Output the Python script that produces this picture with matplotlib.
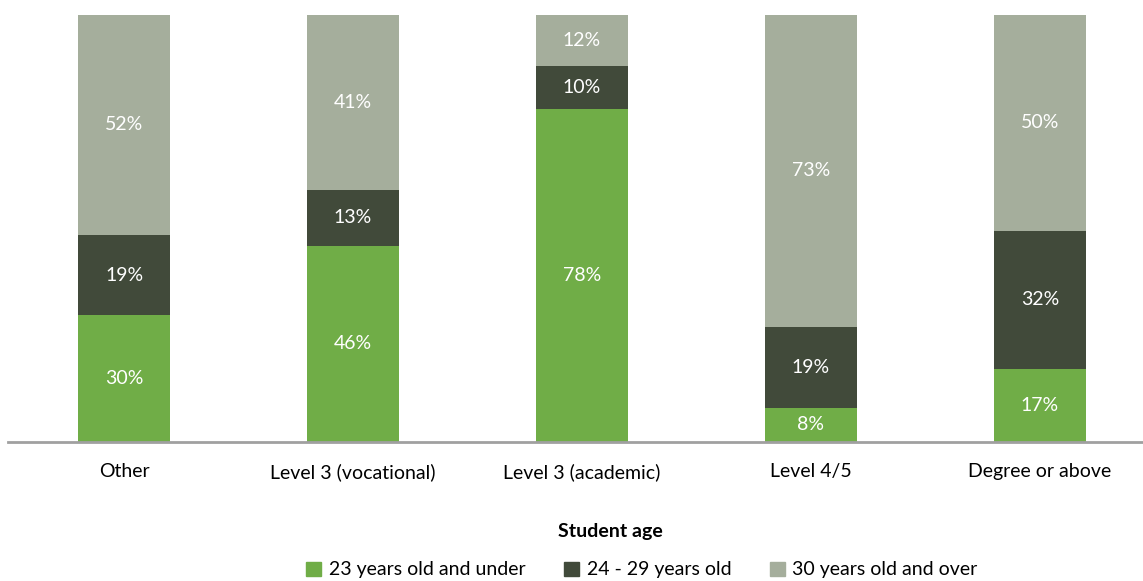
import numpy as np
import matplotlib.pyplot as plt
from matplotlib.patches import Patch

plt.rcParams['font.family'] = ['Lato', 'DejaVu Sans']

categories = ['Other', 'Level 3 (vocational)', 'Level 3 (academic)', 'Level 4/5', 'Degree or above']
series = ['23 years old and under', '24 - 29 years old', '30 years old and over']
under23 = [30, 46, 78, 8, 17]
age24_29 = [19, 13, 10, 19, 32]
over30 = [52, 41, 12, 73, 50]
colors = ['#70AD47', '#414A3A', '#A5AE9C']

data = np.array([under23, age24_29, over30], dtype=float)
shares = data / data.sum(axis=0) * 100

fig = plt.figure(figsize=(11.43, 5.81), dpi=100)
ax = fig.add_axes([8 / 1143, 1 - 442 / 581, 1 - 8 / 1143, 427 / 581])

x = np.arange(len(categories))
bottom = np.zeros(len(categories))
for i in range(3):
    ax.bar(x, shares[i], 0.4, bottom=bottom, color=colors[i], linewidth=0)
    for j in range(len(categories)):
        ax.text(x[j], bottom[j] + shares[i][j] / 2, '%d%%' % data[i][j],
                ha='center', va='center', color='white', fontsize=14)
    bottom += shares[i]

ax.set_xlim(-0.507, 4.45)
ax.set_ylim(0, 100)
ax.set_xticks(x)
ax.set_xticklabels(categories, fontsize=14)
ax.tick_params(axis='x', length=0, pad=15)
ax.set_yticks([])
for s in ['top', 'right', 'left']:
    ax.spines[s].set_visible(False)
ax.spines['bottom'].set_color('#A0A0A0')
ax.spines['bottom'].set_linewidth(2)

fig.text(610 / 1143, 1 - 532 / 581, 'Student age', ha='center', va='center',
         fontsize=14, fontweight='bold')

handles = [Patch(color=c, label=s) for c, s in zip(colors, series)]
fig.legend(handles=handles, loc='center', bbox_to_anchor=(642 / 1143, 1 - 570 / 581),
           ncol=3, frameon=False, fontsize=14, handlelength=0.75, handleheight=0.75,
           handletextpad=0.4, columnspacing=2.0)

fig.savefig('out.png')
